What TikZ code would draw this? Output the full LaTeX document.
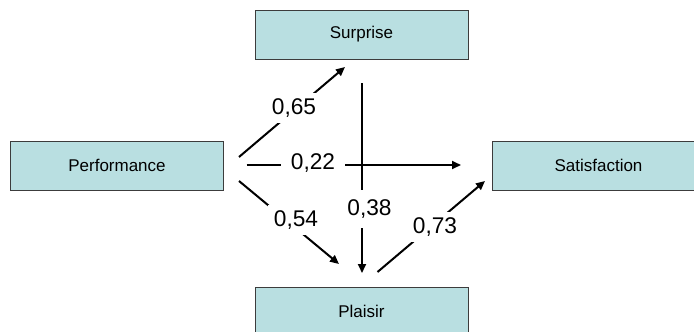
\documentclass[tikz,border=0pt]{standalone}
\usepackage{fontspec}
\setmainfont{Liberation Sans}
\usetikzlibrary{arrows.meta}
\definecolor{boxfill}{RGB}{185,223,225}
\definecolor{boxline}{RGB}{60,60,60}
\begin{document}
\begin{tikzpicture}[x=1pt,y=-1pt,
  box/.style={draw=boxline,line width=1pt,fill=boxfill,minimum width=213pt,minimum height=49pt,inner sep=0pt,font=\fontsize{17}{20}\selectfont},
  conn/.style={line width=2pt,-{Triangle[length=9pt,width=8pt]}},
  lbl/.style={fill=white,inner xsep=6pt,inner ysep=6pt,font=\fontsize{22.7}{26}\selectfont}]
\useasboundingbox (0,0) rectangle (694,332);
\begin{scope}
\clip (0,0) rectangle (694,332);
\node[box] (surp) at (361.5,34.5) {Surprise};
\node[box] (perf) at (117,165.5) {Performance};
\node[box] (sat) at (598.5,165.5) {Satisfaction};
\node[box] (plai) at (361.5,311.5) {Plaisir};
\end{scope}
% connector end points
\coordinate (a1) at (239,157); \coordinate (a2) at (345,67);
\coordinate (b1) at (246.5,165); \coordinate (b2) at (461,165);
\coordinate (c1) at (239,181); \coordinate (c2) at (339,264);
\coordinate (d1) at (362,83); \coordinate (d2) at (362,273);
\coordinate (e1) at (377.5,272); \coordinate (e2) at (485,181);
\draw[conn] (d1) -- (d2);
\draw[conn] (b1) -- (b2);
\draw[conn] (a1) -- (a2);
\draw[conn] (c1) -- (c2);
\draw[conn] (e1) -- (e2);
\node[lbl] (l65) at (294,108) {0,65};
\node[lbl,inner xsep=10pt,inner ysep=2pt] (l22) at (313,163) {0,22};
\node[lbl] (l54) at (296,220) {0,54};
\node[lbl,inner ysep=10pt,inner xsep=3pt] (l38) at (369.5,209) {0,38};
\node[lbl] (l73) at (435,227) {0,73};
\end{tikzpicture}
\end{document}
